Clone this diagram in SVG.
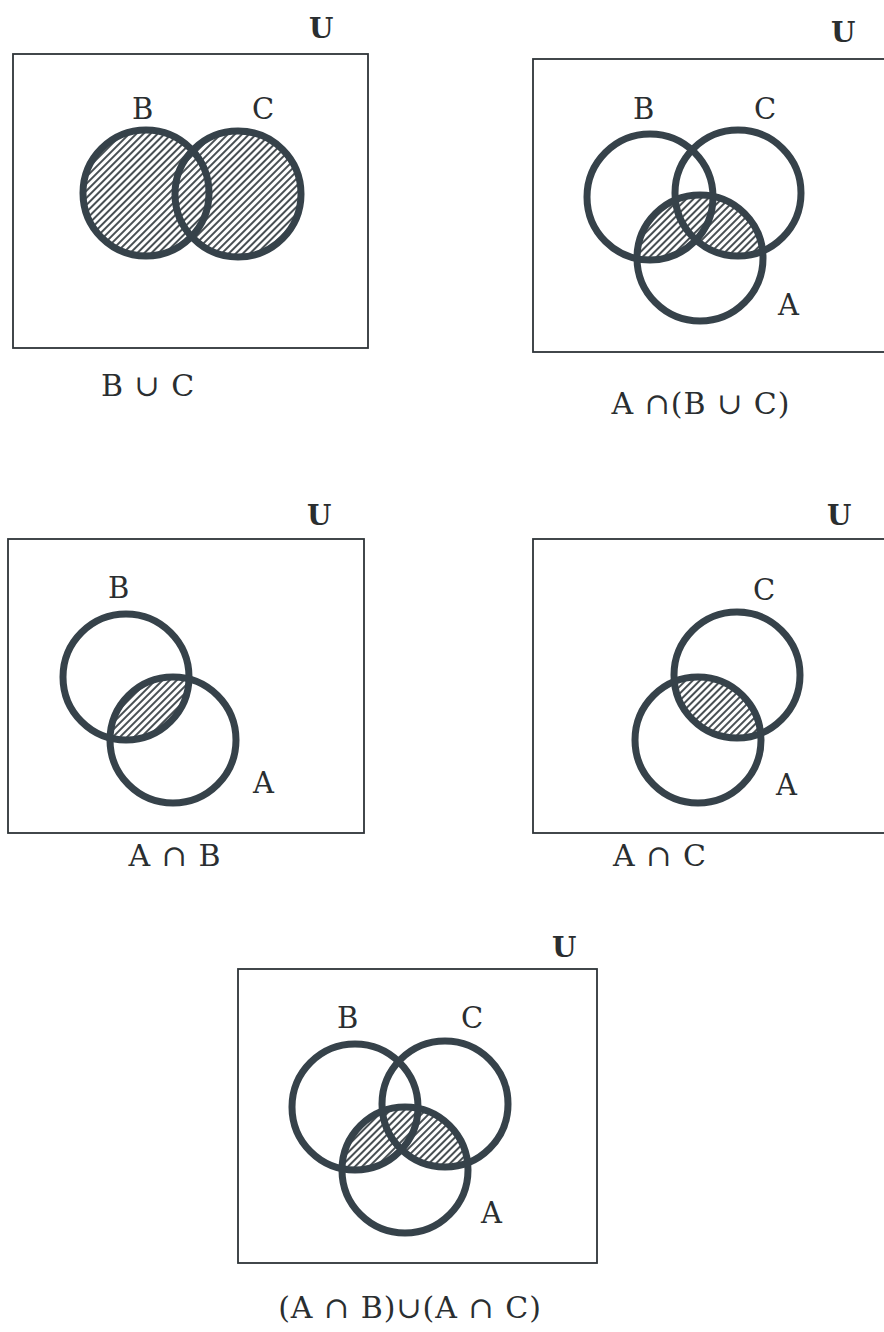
<svg xmlns="http://www.w3.org/2000/svg" width="884" height="1332" viewBox="0 0 884 1332">
<style>
.box{fill:none;stroke:#2e3438;stroke-width:1.8}
.ring{fill:none;stroke:#36424a;stroke-width:7}
.hat{fill:url(#hatch);stroke:none}
.lbl{font-family:"DejaVu Serif","Liberation Serif",serif;font-size:29px;fill:#2a2e30}
.u{font-family:"DejaVu Serif","Liberation Serif",serif;font-size:28px;font-weight:bold;fill:#2a2e30}
.cap{font-family:"DejaVu Serif","Liberation Serif",serif;font-size:30px;fill:#2a2e30;text-anchor:middle;letter-spacing:1px}
</style>
<defs>
<pattern id="hatch" patternUnits="userSpaceOnUse" width="5" height="5" patternTransform="rotate(45)">
<rect width="5" height="5" fill="#ffffff"/>
<line x1="1" y1="0" x2="1" y2="5" stroke="#343c40" stroke-width="1.8"/>
</pattern>
<clipPath id="clipA2"><circle cx="700" cy="258" r="63"/></clipPath>
<clipPath id="clipA3"><circle cx="173" cy="740" r="63"/></clipPath>
<clipPath id="clipA4"><circle cx="698" cy="740" r="63"/></clipPath>
<clipPath id="clipA5"><circle cx="405" cy="1170" r="63"/></clipPath>
</defs>
<rect width="884" height="1332" fill="#ffffff"/>

<g id="panel-BuC">
<text class="u" x="309" y="38">U</text>
<rect class="box" x="13" y="54" width="355" height="294"/>
<circle class="hat" cx="146" cy="193" r="63"/>
<circle class="hat" cx="238" cy="194" r="63"/>
<circle class="ring" cx="146" cy="193" r="63"/>
<circle class="ring" cx="238" cy="194" r="63"/>
<text class="lbl" x="132" y="119">B</text>
<text class="lbl" x="252" y="119">C</text>
<text class="cap" x="148" y="396">B ∪ C</text>
</g>

<g id="panel-AnBuC">
<text class="u" x="831" y="42">U</text>
<rect class="box" x="533" y="59" width="360" height="293"/>
<g clip-path="url(#clipA2)">
<circle class="hat" cx="650" cy="197" r="63"/>
<circle class="hat" cx="738" cy="193" r="63"/>
</g>
<circle class="ring" cx="650" cy="197" r="63"/>
<circle class="ring" cx="738" cy="193" r="63"/>
<circle class="ring" cx="700" cy="258" r="63"/>
<text class="lbl" x="633" y="119">B</text>
<text class="lbl" x="754" y="119">C</text>
<text class="lbl" x="778" y="315">A</text>
<text class="cap" x="701" y="414">A ∩(B ∪ C)</text>
</g>

<g id="panel-AnB">
<text class="u" x="307" y="525">U</text>
<rect class="box" x="8" y="539" width="356" height="294"/>
<g clip-path="url(#clipA3)">
<circle class="hat" cx="126" cy="677" r="63"/>
</g>
<circle class="ring" cx="126" cy="677" r="63"/>
<circle class="ring" cx="173" cy="740" r="63"/>
<text class="lbl" x="108" y="598">B</text>
<text class="lbl" x="253" y="793">A</text>
<text class="cap" x="175" y="866">A ∩ B</text>
</g>

<g id="panel-AnC">
<text class="u" x="827" y="525">U</text>
<rect class="box" x="533" y="539" width="360" height="294"/>
<g clip-path="url(#clipA4)">
<circle class="hat" cx="737" cy="675" r="63"/>
</g>
<circle class="ring" cx="737" cy="675" r="63"/>
<circle class="ring" cx="698" cy="740" r="63"/>
<text class="lbl" x="753" y="600">C</text>
<text class="lbl" x="776" y="795">A</text>
<text class="cap" x="660" y="866">A ∩ C</text>
</g>

<g id="panel-AnBuAnC">
<text class="u" x="552" y="957">U</text>
<rect class="box" x="238" y="969" width="359" height="294"/>
<g clip-path="url(#clipA5)">
<circle class="hat" cx="355" cy="1107" r="63"/>
<circle class="hat" cx="445" cy="1104" r="63"/>
</g>
<circle class="ring" cx="355" cy="1107" r="63"/>
<circle class="ring" cx="445" cy="1104" r="63"/>
<circle class="ring" cx="405" cy="1170" r="63"/>
<text class="lbl" x="337" y="1028">B</text>
<text class="lbl" x="461" y="1028">C</text>
<text class="lbl" x="481" y="1223">A</text>
<text class="cap" x="410" y="1318">(A ∩ B)∪(A ∩ C)</text>
</g>
</svg>
